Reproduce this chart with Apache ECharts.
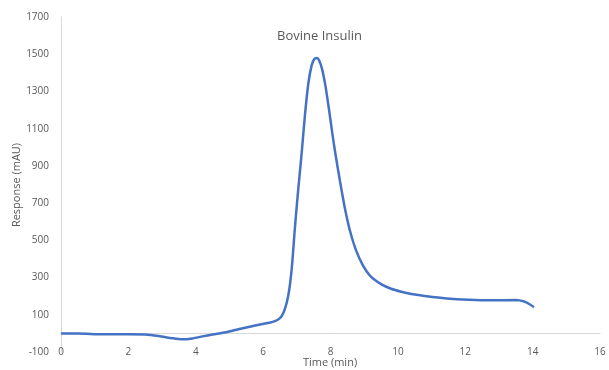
<!DOCTYPE html>
<html>
<head>
<meta charset="utf-8">
<script src="https://cdn.jsdelivr.net/npm/echarts@6/dist/echarts.min.js"></script>
<style>html,body{margin:0;padding:0;background:#fff}#c{width:609px;height:370px}</style>
</head>
<body>
<div id="c"></div>
<script>
const timeMin = [0,0.5,1.0,1.5,2.0,2.5,2.9,3.3,3.6,3.9,4.2,4.5,4.9,5.3,5.7,6.1,6.35,6.5,6.6,6.7,6.78,6.86,6.94,7.04,7.14,7.24,7.34,7.44,7.52,7.59,7.66,7.75,7.85,7.95,8.05,8.15,8.28,8.43,8.58,8.75,8.95,9.2,9.5,9.8,10.1,10.4,10.85,11.45,12.1,12.8,13.5,13.75,13.9,14.04];
const responseMAU = [0,-1,-4,-5,-5,-6,-14,-26,-32,-27,-16,-6,6,24,40,54,66,82,110,165,240,370,560,770,960,1170,1340,1440,1474,1480,1468,1420,1330,1210,1080,960,820,670,550,450,370,305,265,240,224,212,200,188,181,178,179,171,158,141];
const chartTitle = 'Bovine Insulin';
const xName = 'Time (min)';
const yName = 'Response (mAU)';

const data = timeMin.map((t, i) => [t, responseMAU[i]]);
const font = 'Open Sans';
const chart = echarts.init(document.getElementById('c'));
chart.setOption({
  animation: false,
  title: { text: chartTitle, left: 272, top: 25, textStyle: { fontFamily: font, fontSize: 13, fontWeight: 'normal', color: '#595959' } },
  grid: { left: 61, right: 9, top: 17, bottom: 18, containLabel: false, outerBoundsMode: 'none' },
  graphic: [
    { type: 'text', x: 330, y: 363, style: { text: xName, fontFamily: font, fontSize: 11, fill: '#595959', align: 'center', verticalAlign: 'middle' } },
    { type: 'text', x: 17, y: 185, rotation: Math.PI / 2, style: { text: yName, fontFamily: font, fontSize: 11, fill: '#595959', align: 'center', verticalAlign: 'middle' } }
  ],
  xAxis: {
    type: 'value', min: 0, max: 16, interval: 2,
    axisLine: { onZero: true, lineStyle: { color: '#d9d9d9', width: 1 } },
    axisTick: { show: false },
    splitLine: { show: false },
    axisLabel: { fontFamily: font, fontSize: 10, color: '#595959', margin: -5, formatter: v => String(v) }
  },
  yAxis: {
    type: 'value', min: -100, max: 1700, interval: 200,
    axisLine: { show: true, lineStyle: { color: '#d9d9d9', width: 1 } },
    axisTick: { show: false },
    splitLine: { show: false },
    axisLabel: { fontFamily: font, fontSize: 10, color: '#595959', margin: 12, formatter: v => String(v) }
  },
  series: [{
    type: 'line', data: data, smooth: 0.25, showSymbol: false,
    lineStyle: { color: '#4472C4', width: 2.5 }
  }]
});
</script>
</body>
</html>
